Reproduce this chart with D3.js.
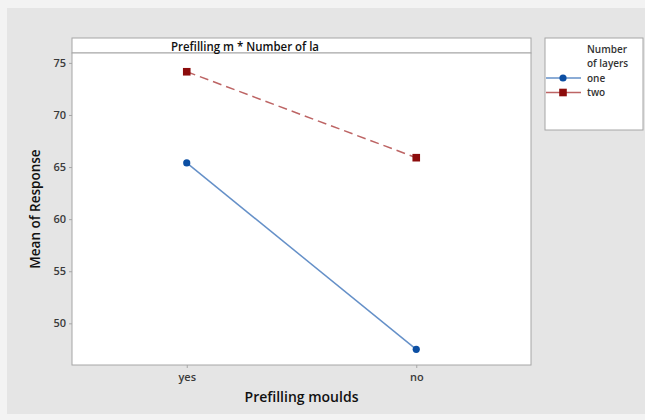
<!DOCTYPE html>
<html>
<head>
<meta charset="utf-8">
<script src="https://cdn.jsdelivr.net/npm/d3@7"></script>
<style>
  body { margin: 0; background: #f3f3f3; }
  text { font-family: "Open Sans", "Noto Sans", sans-serif; }
</style>
</head>
<body>
<svg id="chart" width="645" height="420"></svg>
<script>
// interaction plot: Prefilling moulds x Number of layers

var categories = ['yes', 'no']
var seriesNames = ['one', 'two']
var oneValues = [65.4, 47.5]
var twoValues = [74.15, 65.9]
var yTicks = [50, 55, 60, 65, 70, 75]

var series = [
    {name: seriesNames[0], values: oneValues, line: '#6590c8', mark: '#0c4fa3', dash: null, shape: 'circle'},
    {name: seriesNames[1], values: twoValues, line: '#bd6464', mark: '#8c0c0c', dash: '9,5', shape: 'square'}
]

let plotLeft = 72, plotRight = 531, plotTop = 53, plotBottom = 365

var svg = d3.select('#chart')

// gray panel
svg.append('rect').attr('x', 7).attr('y', 8).attr('width', 638).attr('height', 406).attr('fill', '#e5e5e5')

var x = d3.scalePoint().domain(categories).range([plotLeft, plotRight]).padding(0.5)
var y = d3.scaleLinear().domain([46, 75.95]).range([plotBottom, plotTop])

// plot area + title strip
svg.append('rect').attr('x', plotLeft).attr('y', 38).attr('width', plotRight - plotLeft).attr('height', plotTop - 38)
    .attr('fill', '#fff').attr('stroke', '#a6a6a6')
svg.append('rect').attr('x', plotLeft).attr('y', plotTop).attr('width', plotRight - plotLeft).attr('height', plotBottom - plotTop)
    .attr('fill', '#fff').attr('stroke', '#a6a6a6')

svg.append('text').attr('x', 245).attr('y', 50.5)
    .attr('text-anchor', 'middle').attr('font-size', 12.5).attr('font-weight', 600).attr('fill', '#111')
    .attr('textLength', 148).attr('lengthAdjust', 'spacingAndGlyphs')
    .text('Prefilling m * Number of la')

// axes
var yAxis = svg.append('g').attr('transform', 'translate(' + plotLeft + ',0)')
    .call(d3.axisLeft(y).tickValues(yTicks).tickSize(3).tickPadding(3))
var xAxis = svg.append('g').attr('transform', 'translate(0,' + plotBottom + ')')
    .call(d3.axisBottom(x).tickSize(3).tickPadding(5))

;[yAxis, xAxis].forEach(g => {
    g.select('.domain').remove()
    g.selectAll('line').attr('stroke', '#a6a6a6')
    g.selectAll('text').attr('font-size', 11).attr('font-weight', 600).attr('fill', '#3a3a3a')
        .attr('font-family', '"Open Sans", sans-serif')
})

svg.append('text').attr('transform', 'translate(40,' + ((plotTop + plotBottom) / 2) + ') rotate(-90)')
    .attr('text-anchor', 'middle').attr('font-size', 13.5).attr('font-weight', 600).attr('fill', '#111')
    .text('Mean of Response')
svg.append('text').attr('x', (plotLeft + plotRight) / 2).attr('y', 402)
    .attr('text-anchor', 'middle').attr('font-size', 14).attr('font-weight', 600).attr('fill', '#111')
    .text('Prefilling moulds')

// lines and markers
var line = d3.line().x((d, i) => x(categories[i])).y(d => y(d))

function drawMarker(g, s, cx, cy) {
    if (s.shape == 'circle') {
        g.append('circle').attr('cx', cx).attr('cy', cy).attr('r', 3.6).attr('fill', s.mark)
    } else {
        g.append('rect').attr('x', cx - 3.8).attr('y', cy - 3.8).attr('width', 7.6).attr('height', 7.6).attr('fill', s.mark)
    }
}

series.forEach(s => {
    svg.append('path').datum(s.values).attr('d', line)
        .attr('fill', 'none').attr('stroke', s.line).attr('stroke-width', 1.5)
        .attr('stroke-dasharray', s.dash)
    var g = svg.append('g')
    s.values.forEach((v, i) => drawMarker(g, s, x(categories[i]), y(v)))
})

// legend
svg.append('rect').attr('x', 545).attr('y', 38).attr('width', 98).attr('height', 92)
    .attr('fill', '#fff').attr('stroke', '#a6a6a6')
svg.append('text').attr('x', 587).attr('y', 53).attr('font-size', 10).attr('font-weight', 600).attr('fill', '#333').text('Number')
svg.append('text').attr('x', 587).attr('y', 67).attr('font-size', 10).attr('font-weight', 600).attr('fill', '#333').text('of layers')

var leg = svg.append('g').selectAll('g').data(series).enter().append('g')
    .attr('transform', (d, i) => 'translate(0,' + (78 + i * 14.5) + ')')
leg.append('line').attr('x1', 546).attr('x2', 581).attr('y1', 0).attr('y2', 0)
    .attr('stroke', d => d.line).attr('stroke-width', 1.4)
leg.each(function (d) { drawMarker(d3.select(this), d, 563, 0) })
leg.append('text').attr('x', 587).attr('y', 3.5).attr('font-size', 10).attr('font-weight', 600).attr('fill', '#333').text(d => d.name)
</script>
</body>
</html>
